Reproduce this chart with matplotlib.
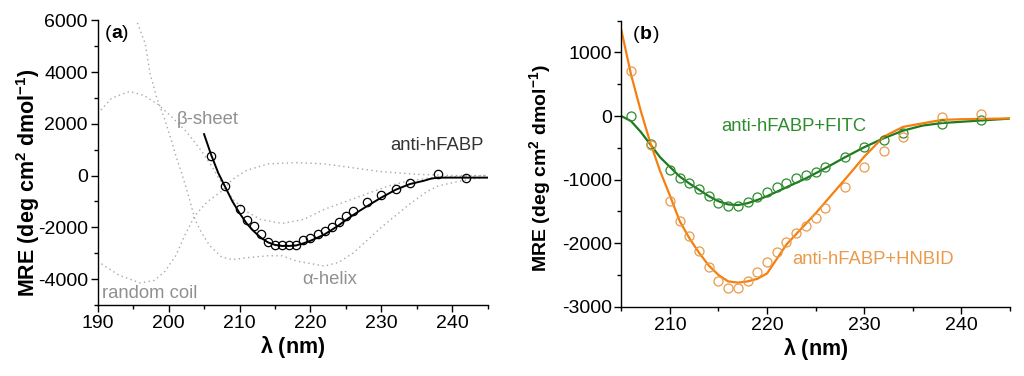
import matplotlib
matplotlib.use("Agg")
import matplotlib.pyplot as plt
from matplotlib.ticker import MultipleLocator

plt.rcParams['font.family'] = ['Liberation Sans', 'DejaVu Sans']
plt.rcParams['mathtext.fontset'] = 'custom'
plt.rcParams['mathtext.rm'] = 'Liberation Sans'
plt.rcParams['mathtext.bf'] = 'Liberation Sans:bold'
plt.rcParams['axes.unicode_minus'] = False

# ---------------- Panel (a) data ----------------
a_pts_x = [206, 208, 210, 211, 212, 213, 214, 215, 216, 217, 218, 219, 220, 221,
           222, 223, 224, 225, 226, 228, 230, 232, 234, 238, 242]
a_pts_y = [750, -400, -1290, -1700, -1950, -2260, -2550, -2700, -2700, -2700, -2700,
           -2500, -2430, -2260, -2150, -2000, -1780, -1550, -1380, -1030, -750, -520,
           -300, 50, -80]

a_fit_x = [205, 206, 207, 208, 209, 210, 211, 212, 213, 214, 215, 216, 217, 218, 219,
           220, 221, 222, 223, 224, 225, 226, 227, 228, 230, 232, 234, 236, 237, 238,
           240, 245]
a_fit_y = [1600, 800, 100, -450, -1000, -1450, -1850, -2150, -2400, -2580, -2680, -2720,
           -2720, -2700, -2620, -2520, -2400, -2270, -2100, -1920, -1720, -1530, -1350,
           -1180, -850, -550, -330, -200, -120, -80, -80, -80]

helix_x = [195.6, 196.7, 197.4, 198.3, 199.5, 200.4, 201.1, 201.8, 202.8, 203.7, 204.6,
           205.8, 207.5, 209, 211.5, 214, 216, 218, 220.4, 222, 224, 226, 228, 230, 232,
           234, 236.3, 238, 241.5, 245]
helix_y = [5900, 5100, 3930, 3030, 2130, 1350, 700, 130, -770, -1680, -2190, -2710, -3150,
           -3250, -3160, -3100, -3100, -3300, -3420, -3500, -3350, -3000, -2500, -2000,
           -1550, -1100, -640, -400, -190, -50]

sheet_x = [190, 192, 194.5, 196.5, 198.5, 200.5, 202.5, 204.5, 206, 207.5, 209, 211, 213,
           216, 219, 222, 225, 228, 231, 234, 238, 245]
sheet_y = [2400, 3000, 3250, 3100, 2750, 2250, 1700, 1000, 400, -300, -900, -1400, -1700,
           -1850, -1700, -1300, -1000, -700, -400, -200, -50, 0]

coil_x = [190, 191, 193, 196, 198, 199.5, 201, 202.3, 203.7, 205.5, 207.5, 209, 211, 214,
          218, 222, 226, 230, 235, 240, 245]
coil_y = [-3300, -3500, -3850, -4150, -4050, -3700, -3100, -2300, -1550, -1000, -600, -150,
          200, 450, 500, 450, 300, 150, 50, 0, 0]

# ---------------- Panel (b) data ----------------
b_x = [206, 208, 210, 211, 212, 213, 214, 215, 216, 217, 218, 219, 220, 221, 222, 223,
       224, 225, 226, 228, 230, 232, 234, 238, 242]
fitc_pts = [0, -440, -850, -980, -1060, -1150, -1260, -1370, -1415, -1410, -1350, -1280,
            -1200, -1120, -1050, -980, -930, -875, -800, -650, -490, -380, -260, -125, -60]
hnbid_pts = [707, -450, -1330, -1645, -1880, -2130, -2370, -2600, -2700, -2700, -2600,
             -2460, -2290, -2140, -1985, -1845, -1730, -1610, -1450, -1110, -800, -545,
             -335, -10, 25]

fitc_fit_x = [205, 206, 207, 208, 209, 210, 211, 212, 213, 214, 215, 216, 217, 218, 219,
              220, 221, 222, 223, 224, 225, 226, 228, 230, 232, 234, 236, 238, 240, 242, 245]
fitc_fit_y = [0, -80, -250, -450, -650, -800, -950, -1060, -1160, -1260, -1340, -1390,
              -1400, -1370, -1320, -1260, -1190, -1120, -1050, -980, -900, -820, -650, -490,
              -350, -230, -150, -110, -90, -70, -40]

hnbid_fit_x = [205, 206, 207, 208, 209, 210, 211, 212, 213, 214, 215, 216, 217, 218, 219,
               220, 222, 225, 228, 230, 232, 234, 236, 238, 240, 245]
hnbid_fit_y = [1350, 650, 80, -430, -870, -1250, -1650, -1920, -2150, -2350, -2500, -2600,
               -2620, -2600, -2560, -2475, -2020, -1530, -1000, -640, -325, -170, -115,
               -60, -50, -37]

GREY = '#a8a8a8'
GREEN = '#1f7a1f'
GREEN_M = '#2e8b2e'
ORANGE = '#f57f0f'
ORANGE_M = '#e99a4a'

TICK_FS = 14
ANN_FS = 13.3

fig = plt.figure(figsize=(10.24, 3.76), dpi=100)
axA = fig.add_axes([0.0954, 0.189, 0.3809, 0.757])
axB = fig.add_axes([0.6068, 0.184, 0.3794, 0.761])

def style(ax):
    for s in ['top', 'right']:
        ax.spines[s].set_visible(False)
    for s in ['left', 'bottom']:
        ax.spines[s].set_linewidth(1.0)
    ax.tick_params(which='major', direction='out', length=5, width=1, labelsize=TICK_FS,
                   pad=2)
    ax.tick_params(which='minor', direction='out', length=3, width=1)

ylab = r'MRE (deg cm$^{\mathbf{2}}$ dmol$^{\mathbf{-1}}$)'
xlab = r'$\mathbf{\lambda}$ (nm)'

# Panel (a)
dot = (0, (1, 2.4))
axA.plot(helix_x, helix_y, color=GREY, lw=1.0, ls=dot)
axA.plot(sheet_x, sheet_y, color=GREY, lw=1.0, ls=dot)
axA.plot(coil_x, coil_y, color=GREY, lw=1.0, ls=dot)
axA.plot(a_fit_x, a_fit_y, color='black', lw=1.4)
axA.plot(a_pts_x, a_pts_y, ls='none', marker='o', ms=6, mfc='none', mec='black', mew=0.9)
axA.set_xlim(190, 245)
axA.set_ylim(-5000, 6000)
axA.xaxis.set_major_locator(MultipleLocator(10))
axA.xaxis.set_minor_locator(MultipleLocator(5))
axA.yaxis.set_major_locator(MultipleLocator(2000))
axA.yaxis.set_minor_locator(MultipleLocator(1000))
style(axA)
axA.set_xlabel(xlab, fontsize=15.5, fontweight='bold', labelpad=2)
axA.set_ylabel(ylab, fontsize=15.5, fontweight='bold')
axA.yaxis.set_label_coords(-0.143, 0.43)
axA.text(191.0, 5500, '(', fontsize=14, va='center', ha='left')
axA.text(191.9, 5500, 'a', fontsize=14, fontweight='bold', va='center', ha='left')
axA.text(193.4, 5500, ')', fontsize=14, va='center', ha='left')
axA.text(201.2, 2150, 'β-sheet', fontsize=ANN_FS, color='#909090', va='center')
axA.text(231.3, 1150, 'anti-hFABP', fontsize=ANN_FS, color='#333333', va='center')
axA.text(218.8, -4000, 'α-helix', fontsize=ANN_FS, color='#909090', va='center')
axA.text(190.6, -4550, 'random coil', fontsize=ANN_FS, color='#909090', va='center')

# Panel (b)
axB.plot(fitc_fit_x, fitc_fit_y, color=GREEN, lw=1.6)
axB.plot(hnbid_fit_x, hnbid_fit_y, color=ORANGE, lw=1.6)
axB.plot(b_x, fitc_pts, ls='none', marker='o', ms=6.5, mfc='none', mec=GREEN_M, mew=0.9)
axB.plot(b_x, hnbid_pts, ls='none', marker='o', ms=6.5, mfc='none', mec=ORANGE_M, mew=0.9)
axB.set_xlim(205, 245)
axB.set_ylim(-3000, 1500)
axB.xaxis.set_major_locator(MultipleLocator(10))
axB.xaxis.set_minor_locator(MultipleLocator(5))
axB.yaxis.set_major_locator(MultipleLocator(1000))
axB.yaxis.set_minor_locator(MultipleLocator(500))
style(axB)
axB.set_xlabel(xlab, fontsize=15.5, fontweight='bold', labelpad=2)
axB.set_ylabel(ylab, fontsize=14, fontweight='bold')
axB.yaxis.set_label_coords(-0.173, 0.483)
axB.text(206.2, 1290, '(', fontsize=14, va='center', ha='left')
axB.text(206.9, 1290, 'b', fontsize=14, fontweight='bold', va='center', ha='left')
axB.text(208.3, 1290, ')', fontsize=14, va='center', ha='left')
axB.text(215.3, -160, 'anti-hFABP+FITC', fontsize=ANN_FS, color=GREEN_M, va='center')
axB.text(222.6, -2250, 'anti-hFABP+HNBID', fontsize=ANN_FS, color=ORANGE_M, va='center')

fig.savefig('out.png', dpi=100)
